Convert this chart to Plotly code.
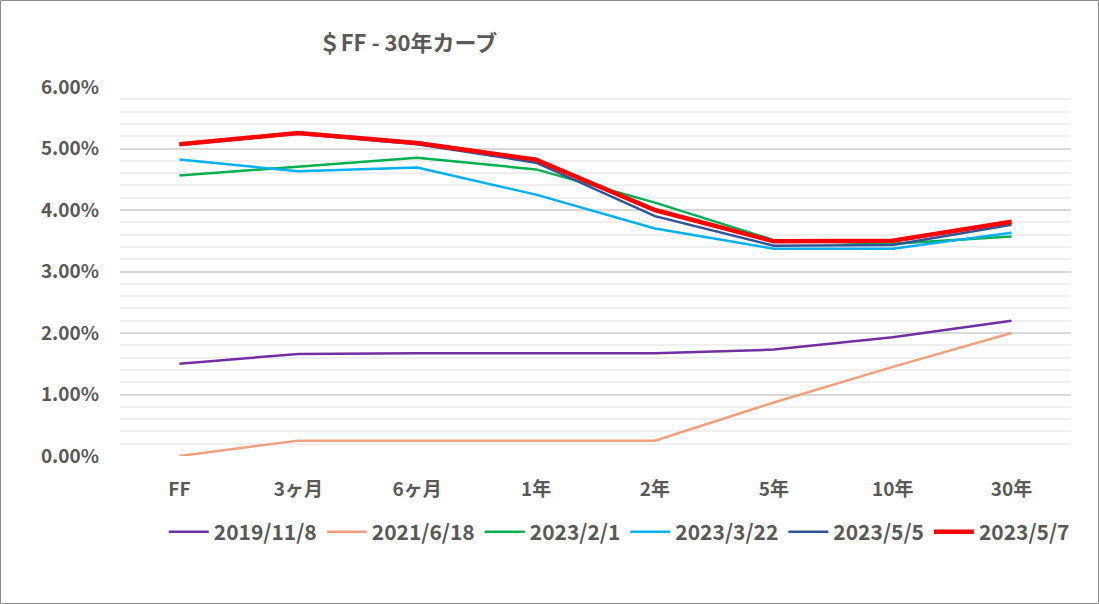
import plotly.graph_objects as go

tenors = ['FF', '3ヶ月', '6ヶ月', '1年', '2年', '5年', '10年', '30年']

r_20191108 = [1.50, 1.66, 1.67, 1.67, 1.67, 1.73, 1.93, 2.20]
r_20210618 = [0.00, 0.25, 0.25, 0.25, 0.25, 0.87, 1.45, 2.00]
r_20230201 = [4.56, 4.71, 4.85, 4.66, 4.12, 3.51, 3.45, 3.57]
r_20230322 = [4.82, 4.63, 4.69, 4.25, 3.70, 3.37, 3.37, 3.63]
r_20230505 = [5.06, 5.24, 5.07, 4.77, 3.90, 3.42, 3.43, 3.76]
r_20230507 = [5.07, 5.25, 5.09, 4.82, 4.00, 3.49, 3.50, 3.81]

series = [
    ('2019/11/8', r_20191108, '#7030A0', 2.5),
    ('2021/6/18', r_20210618, '#F0A07C', 2.5),
    ('2023/2/1', r_20230201, '#00B050', 2.5),
    ('2023/3/22', r_20230322, '#00B0F0', 2.5),
    ('2023/5/5', r_20230505, '#2F5597', 2.5),
    ('2023/5/7', r_20230507, '#FF0000', 4.5),
]

font = "Noto Sans CJK JP"
grey = '#595959'

fig = go.Figure()
for name, vals, col, w in series:
    fig.add_trace(go.Scatter(x=tenors, y=[v / 100 for v in vals], name=name, mode='lines',
                             line=dict(color=col, width=w)))

# chart border
pw = 1099 - 120 - 28
ph = 604 - 87 - 148
fig.add_shape(type='rect', xref='paper', yref='paper',
              x0=-119.5 / pw, x1=1 + 27.5 / pw, y0=-147.5 / ph, y1=1 + 86.5 / ph,
              line=dict(color='#8C8C8C', width=1), layer='below')

fig.update_layout(
    width=1099, height=604,
    margin=dict(l=120, r=28, t=87, b=148),
    paper_bgcolor='white', plot_bgcolor='white',
    font=dict(family=font, color=grey),
    title=dict(text='<b>＄FF - 30年カーブ</b>', x=408 / 1099, xanchor='center',
               y=1 - 43 / 604, yanchor='middle', font=dict(size=22, color=grey)),
    legend=dict(orientation='h', x=0.525, xanchor='center', y=-76 / ph, yanchor='middle',
                font=dict(size=21, color=grey, family=font, weight='bold'), itemwidth=40,
                traceorder='normal'),
    showlegend=True,
)
fig.update_xaxes(range=[-0.5, 7.5], showgrid=False, showline=False, ticks='',
                 ticklabelstandoff=20,
                 tickfont=dict(size=19, color=grey, family=font, weight='bold'))
fig.update_yaxes(range=[0, 0.06], dtick=0.01, tickformat='.2%', showline=False,
                 zeroline=False, gridcolor='#D9D9D9', gridwidth=1.5,
                 minor=dict(dtick=0.002, showgrid=True, gridcolor='#EFEFEF', gridwidth=1.5),
                 ticklabelstandoff=20,
                 tickfont=dict(size=19, color=grey, family=font, weight='bold'))

fig.write_html("out.html", config={'displayModeBar': False},
               post_script="document.body.style.margin='0';")
